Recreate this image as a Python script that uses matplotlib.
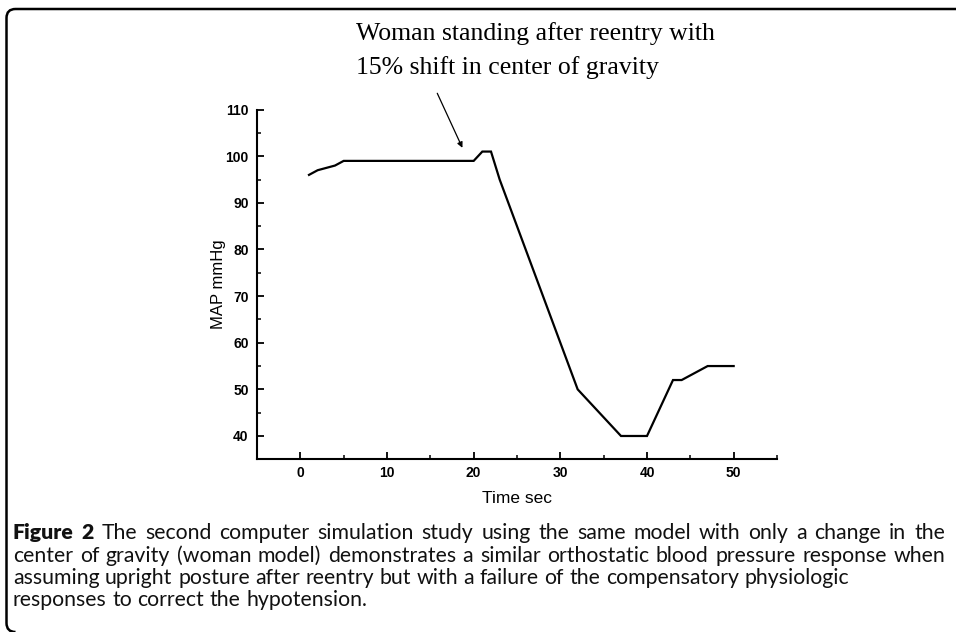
import matplotlib
matplotlib.use("Agg")
import matplotlib.pyplot as plt
from matplotlib.path import Path
from matplotlib.patches import PathPatch
from matplotlib.ticker import MultipleLocator

# ---- data ----
time_sec = [1, 2, 4, 5, 20, 21, 22, 23, 32, 37, 40, 43, 44, 47, 50]
map_mmhg = [96, 97, 98, 99, 99, 101, 101, 95, 50, 40, 40, 52, 52, 55, 55]
x_ticks = [0, 10, 20, 30, 40, 50]
y_ticks = [40, 50, 60, 70, 80, 90, 100, 110]
annotation_lines = ["Woman standing after reentry with",
                    "15% shift in center of gravity"]
arrow_tip = (18.7, 101.8)
arrow_tail = (15.8, 113.5)
caption_bold = "Figure 2"
caption_lines = [
    "The second computer simulation study using the same model with only a change in the",
    "center of gravity (woman model) demonstrates a similar orthostatic blood pressure response when",
    "assuming upright posture after reentry but with a failure of the compensatory physiologic",
    "responses to correct the hypotension.",
]

W, H = 956, 632
fig = plt.figure(figsize=(W / 100, H / 100), dpi=100)
fig.patch.set_facecolor("white")

def fx(px):
    return px / W

def fy(py):
    return 1 - py / H

ax = fig.add_axes([fx(257), fy(459.3), (777 - 257) / W, (459.3 - 109.6) / H])
ax.plot(time_sec, map_mmhg, color="black", lw=1.6, solid_joinstyle="miter")
ax.set_xlim(-5, 55)
ax.set_ylim(35, 110)
ax.spines["top"].set_visible(False)
ax.spines["right"].set_visible(False)
for s in ("left", "bottom"):
    ax.spines[s].set_linewidth(1.5)
ax.set_xticks(x_ticks)
ax.set_yticks(y_ticks)
ax.xaxis.set_minor_locator(MultipleLocator(5))
ax.yaxis.set_minor_locator(MultipleLocator(5))
ax.tick_params(which="major", direction="in", length=5, width=1.3, pad=6)
ax.tick_params(which="minor", direction="in", length=3, width=1.1)
ax.tick_params(axis="y", which="major", pad=6)
ax.tick_params(axis="x", which="major", pad=5)
for lab in ax.get_xticklabels() + ax.get_yticklabels():
    lab.set_fontfamily("Liberation Sans")
    lab.set_fontweight("bold")
    lab.set_fontsize(10)
ax.set_xlabel("Time sec", family="Liberation Sans", fontsize=12.5, labelpad=8)
ax.set_ylabel("MAP mmHg", family="Liberation Sans", fontsize=12)
ax.yaxis.set_label_coords((226 - 257) / 520, 0.5)

ax.annotate("", xy=arrow_tip, xytext=arrow_tail, annotation_clip=False,
            arrowprops=dict(arrowstyle="-|>", color="black", lw=0.9,
                            mutation_scale=8, shrinkA=0, shrinkB=0))

fig.text(fx(356), fy(40), annotation_lines[0], family="Liberation Serif",
         fontsize=18.5, va="baseline", ha="left")
fig.text(fx(356), fy(74), annotation_lines[1], family="Liberation Serif",
         fontsize=18.5, va="baseline", ha="left")

# frame (top + left with rounded corners)
r = 9
x0, y0 = 6.5, 9.0
verts = [(W, y0), (x0 + r, y0), (x0, y0), (x0, y0 + r), (x0, H - r), (x0, H), (x0 + r, H)]
codes = [Path.MOVETO, Path.LINETO, Path.CURVE3, Path.CURVE3, Path.LINETO, Path.CURVE3, Path.CURVE3]
vf = [(fx(a), fy(b)) for a, b in verts]
fig.add_artist(PathPatch(Path(vf, codes), transform=fig.transFigure,
                         facecolor="none", edgecolor="black", lw=1.8, clip_on=False))

# caption, word by word; lines 1 and 2 justified to the right edge
cap_font = "Lato"
cap_color = "#111111"
left_px, right_px = 13, 945
baselines = [539, 561.5, 584, 606.5]
fig.canvas.draw()
rend = fig.canvas.get_renderer()
probe = fig.text(0, 0, caption_lines[1], family=cap_font, fontsize=10)
w10 = probe.get_window_extent(renderer=rend).width
probe.remove()
cap_size = 10 * (932 - left_px) / w10

sp = fig.text(0, 0, "a a", family=cap_font, fontsize=cap_size)
sp2 = fig.text(0, 0, "aa", family=cap_font, fontsize=cap_size)
space = sp.get_window_extent(renderer=rend).width - sp2.get_window_extent(renderer=rend).width
sp.remove()
sp2.remove()


def place_line(tokens, base, justify):
    arts = []
    for t, wgt in tokens:
        a = fig.text(0, fy(base), t, family=cap_font, fontsize=cap_size,
                     fontweight=wgt, va="baseline", ha="left", color=cap_color)
        arts.append(a)
    widths = [a.get_window_extent(renderer=rend).width for a in arts]
    if justify and len(arts) > 1:
        gap = (right_px - left_px - sum(widths)) / (len(arts) - 1)
    else:
        gap = space
    x = left_px
    for a, w in zip(arts, widths):
        a.set_x(fx(x))
        x += w + gap


line1 = [(w, "heavy") for w in caption_bold.split()] + [(w, "normal") for w in caption_lines[0].split()]
place_line(line1, baselines[0], True)
place_line([(w, "normal") for w in caption_lines[1].split()], baselines[1], True)
place_line([(w, "normal") for w in caption_lines[2].split()], baselines[2], False)
place_line([(w, "normal") for w in caption_lines[3].split()], baselines[3], False)

fig.savefig("out.png", dpi=100)
